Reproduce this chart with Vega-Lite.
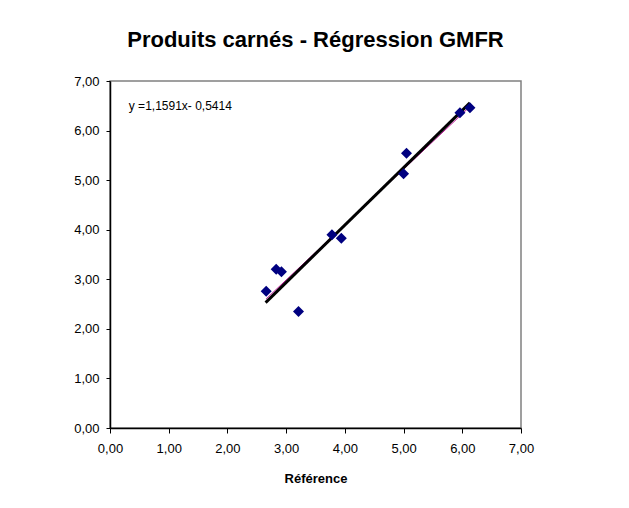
{
  "$schema": "https://vega.github.io/schema/vega-lite/v6.json",
  "width": 411,
  "height": 347,
  "autosize": {"type": "none"},
  "padding": {"left": 110, "top": 81, "right": 108, "bottom": 80},
  "background": "white",
  "title": {
    "text": "Produits carnés - Régression GMFR",
    "font": "Liberation Sans",
    "fontSize": 22,
    "fontWeight": "bold",
    "color": "black",
    "anchor": "middle",
    "offset": 23
  },
  "config": {
    "locale": {"number": {"decimal": ",", "thousands": " ", "grouping": [3], "currency": ["", " €"]}},
    "view": {"stroke": "#808080", "strokeWidth": 1.5},
    "axis": {
      "grid": false,
      "zindex": 1,
      "domainColor": "black",
      "domainWidth": 1.5,
      "tickColor": "black",
      "tickWidth": 1,
      "tickSize": 5,
      "labelFont": "Liberation Sans",
      "labelFontSize": 13,
      "labelColor": "black",
      "labelFlush": false,
      "titleFont": "Liberation Sans",
      "titleFontSize": 13,
      "titleFontWeight": "bold",
      "titleColor": "black"
    }
  },
  "datasets": {
    "points": [
      {"x": 2.66, "y": 2.76},
      {"x": 2.83, "y": 3.20},
      {"x": 2.92, "y": 3.15},
      {"x": 3.21, "y": 2.35},
      {"x": 3.78, "y": 3.90},
      {"x": 3.94, "y": 3.83},
      {"x": 5.00, "y": 5.13},
      {"x": 5.05, "y": 5.54},
      {"x": 5.96, "y": 6.36},
      {"x": 6.13, "y": 6.46}
    ],
    "gmfr": [
      {"x": 2.65, "y": 2.53},
      {"x": 6.13, "y": 6.56}
    ],
    "ols": [
      {"x": 2.66, "y": 2.605},
      {"x": 6.13, "y": 6.484}
    ],
    "equation": [
      {"label": "y =1,1591x- 0,5414", "x": 0.32, "y": 6.5}
    ]
  },
  "encoding": {
    "x": {
      "field": "x",
      "type": "quantitative",
      "scale": {"domain": [0, 7], "nice": false, "zero": false},
      "axis": {
        "title": "Référence",
        "values": [0, 1, 2, 3, 4, 5, 6, 7],
        "format": ".2f",
        "labelPadding": 9,
        "titlePadding": 17
      }
    },
    "y": {
      "field": "y",
      "type": "quantitative",
      "scale": {"domain": [0, 7], "nice": false, "zero": false},
      "axis": {
        "title": null,
        "values": [0, 1, 2, 3, 4, 5, 6, 7],
        "format": ".2f",
        "tickSize": 4,
        "labelPadding": 7
      }
    }
  },
  "layer": [
    {
      "data": {"name": "ols"},
      "mark": {"type": "line", "color": "#c0109a", "strokeWidth": 1}
    },
    {
      "data": {"name": "gmfr"},
      "mark": {"type": "line", "color": "black", "strokeWidth": 3}
    },
    {
      "data": {"name": "points"},
      "mark": {"type": "point", "shape": "diamond", "filled": true, "color": "#000080", "size": 121, "opacity": 1}
    },
    {
      "data": {"name": "equation"},
      "mark": {"type": "text", "align": "left", "baseline": "middle", "font": "Liberation Sans", "fontSize": 12, "color": "black"},
      "encoding": {
        "text": {"field": "label", "type": "nominal"}
      }
    }
  ]
}
